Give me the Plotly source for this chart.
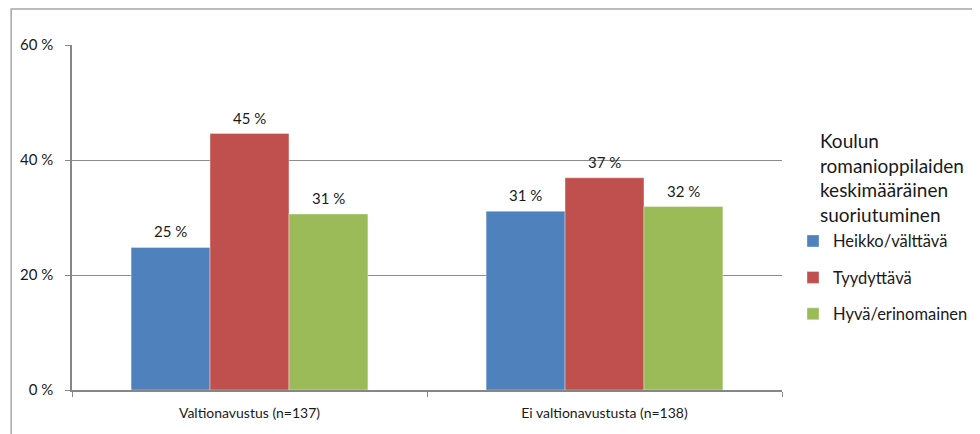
import plotly.graph_objects as go

# data
categories = ['Valtionavustus (n=137)', 'Ei valtionavustusta (n=138)']
series_names = ['Heikko/välttävä', 'Tyydyttävä', 'Hyvä/erinomainen']
heikko = [24.8, 31.1]
tyydyttava = [44.6, 36.9]
hyva = [30.6, 31.9]
colors = ['#4F81BD', '#C0504D', '#9BBB59']

y_ticks = [0, 20, 40, 60]
y_ticklabels = ['0 %', '20 %', '40 %', '60 %']
legend_title = 'Koulun<br>romanioppilaiden<br>keskimääräinen<br>suoriutuminen'

FONT = 'Lato'
TEXT = '#1a1a1a'
BARGAP = 0.333

fig = go.Figure()
all_vals = [heikko, tyydyttava, hyva]
for i, (name, vals) in enumerate(zip(series_names, all_vals)):
    fig.add_trace(go.Bar(
        x=categories, y=vals, name=name,
        marker=dict(color=colors[i], line=dict(width=0.6, color='rgba(255,255,255,0.6)')),
        legendgroup=name,
    ))

# value labels above the bars
bar_w = (1 - BARGAP) / len(all_vals)
annotations = []
for i, vals in enumerate(all_vals):
    offset = (i - (len(all_vals) - 1) / 2) * bar_w
    for j, v in enumerate(vals):
        annotations.append(dict(
            x=j + offset, y=v, xref='x', yref='y', text=f'{v:.0f} %',
            showarrow=False, yanchor='bottom', yshift=5,
            font=dict(size=15, family=FONT, color=TEXT),
        ))

# legend title drawn separately so it lines up with the markers
annotations.append(dict(
    x=1.0506, y=0.616, xref='paper', yref='paper', xanchor='left', yanchor='middle',
    align='left', text=legend_title, showarrow=False,
    font=dict(size=19, family=FONT, color=TEXT),
))

fig.update_layout(
    width=980, height=434,
    margin=dict(l=62, r=206, t=37, b=52),
    paper_bgcolor='white', plot_bgcolor='white',
    barmode='group', bargap=BARGAP, bargroupgap=0,
    font=dict(family=FONT, size=14, color=TEXT),
    showlegend=True,
    legend=dict(
        x=1.0155, xanchor='left', y=0.482, yanchor='top',
        traceorder='grouped', tracegroupgap=12,
        font=dict(size=16.5, family=FONT, color=TEXT),
        itemwidth=30, bgcolor='rgba(0,0,0,0)',
    ),
    xaxis=dict(
        showline=True, linecolor='#868686', linewidth=2,
        ticks='outside', tickson='boundaries', ticklen=5, tickcolor='#868686',
        tickfont=dict(size=14, color=TEXT), ticklabelstandoff=9,
    ),
    yaxis=dict(
        range=[0, 60], tickvals=y_ticks, ticktext=y_ticklabels,
        showgrid=True, gridcolor='#8c8c8c', gridwidth=1,
        showline=True, linecolor='#868686', linewidth=1.5,
        ticks='outside', ticklen=5, tickcolor='#868686',
        tickfont=dict(size=15, color=TEXT), zeroline=False,
        ticklabelstandoff=9,
    ),
    annotations=annotations,
    shapes=[dict(type='rect', xref='paper', yref='paper',
                 x0=-0.0857, x1=1.5, y0=-0.5, y1=1.1043,
                 line=dict(color='#a6a6a6', width=1.5), layer='below')],
)

fig.write_html('out.html')
